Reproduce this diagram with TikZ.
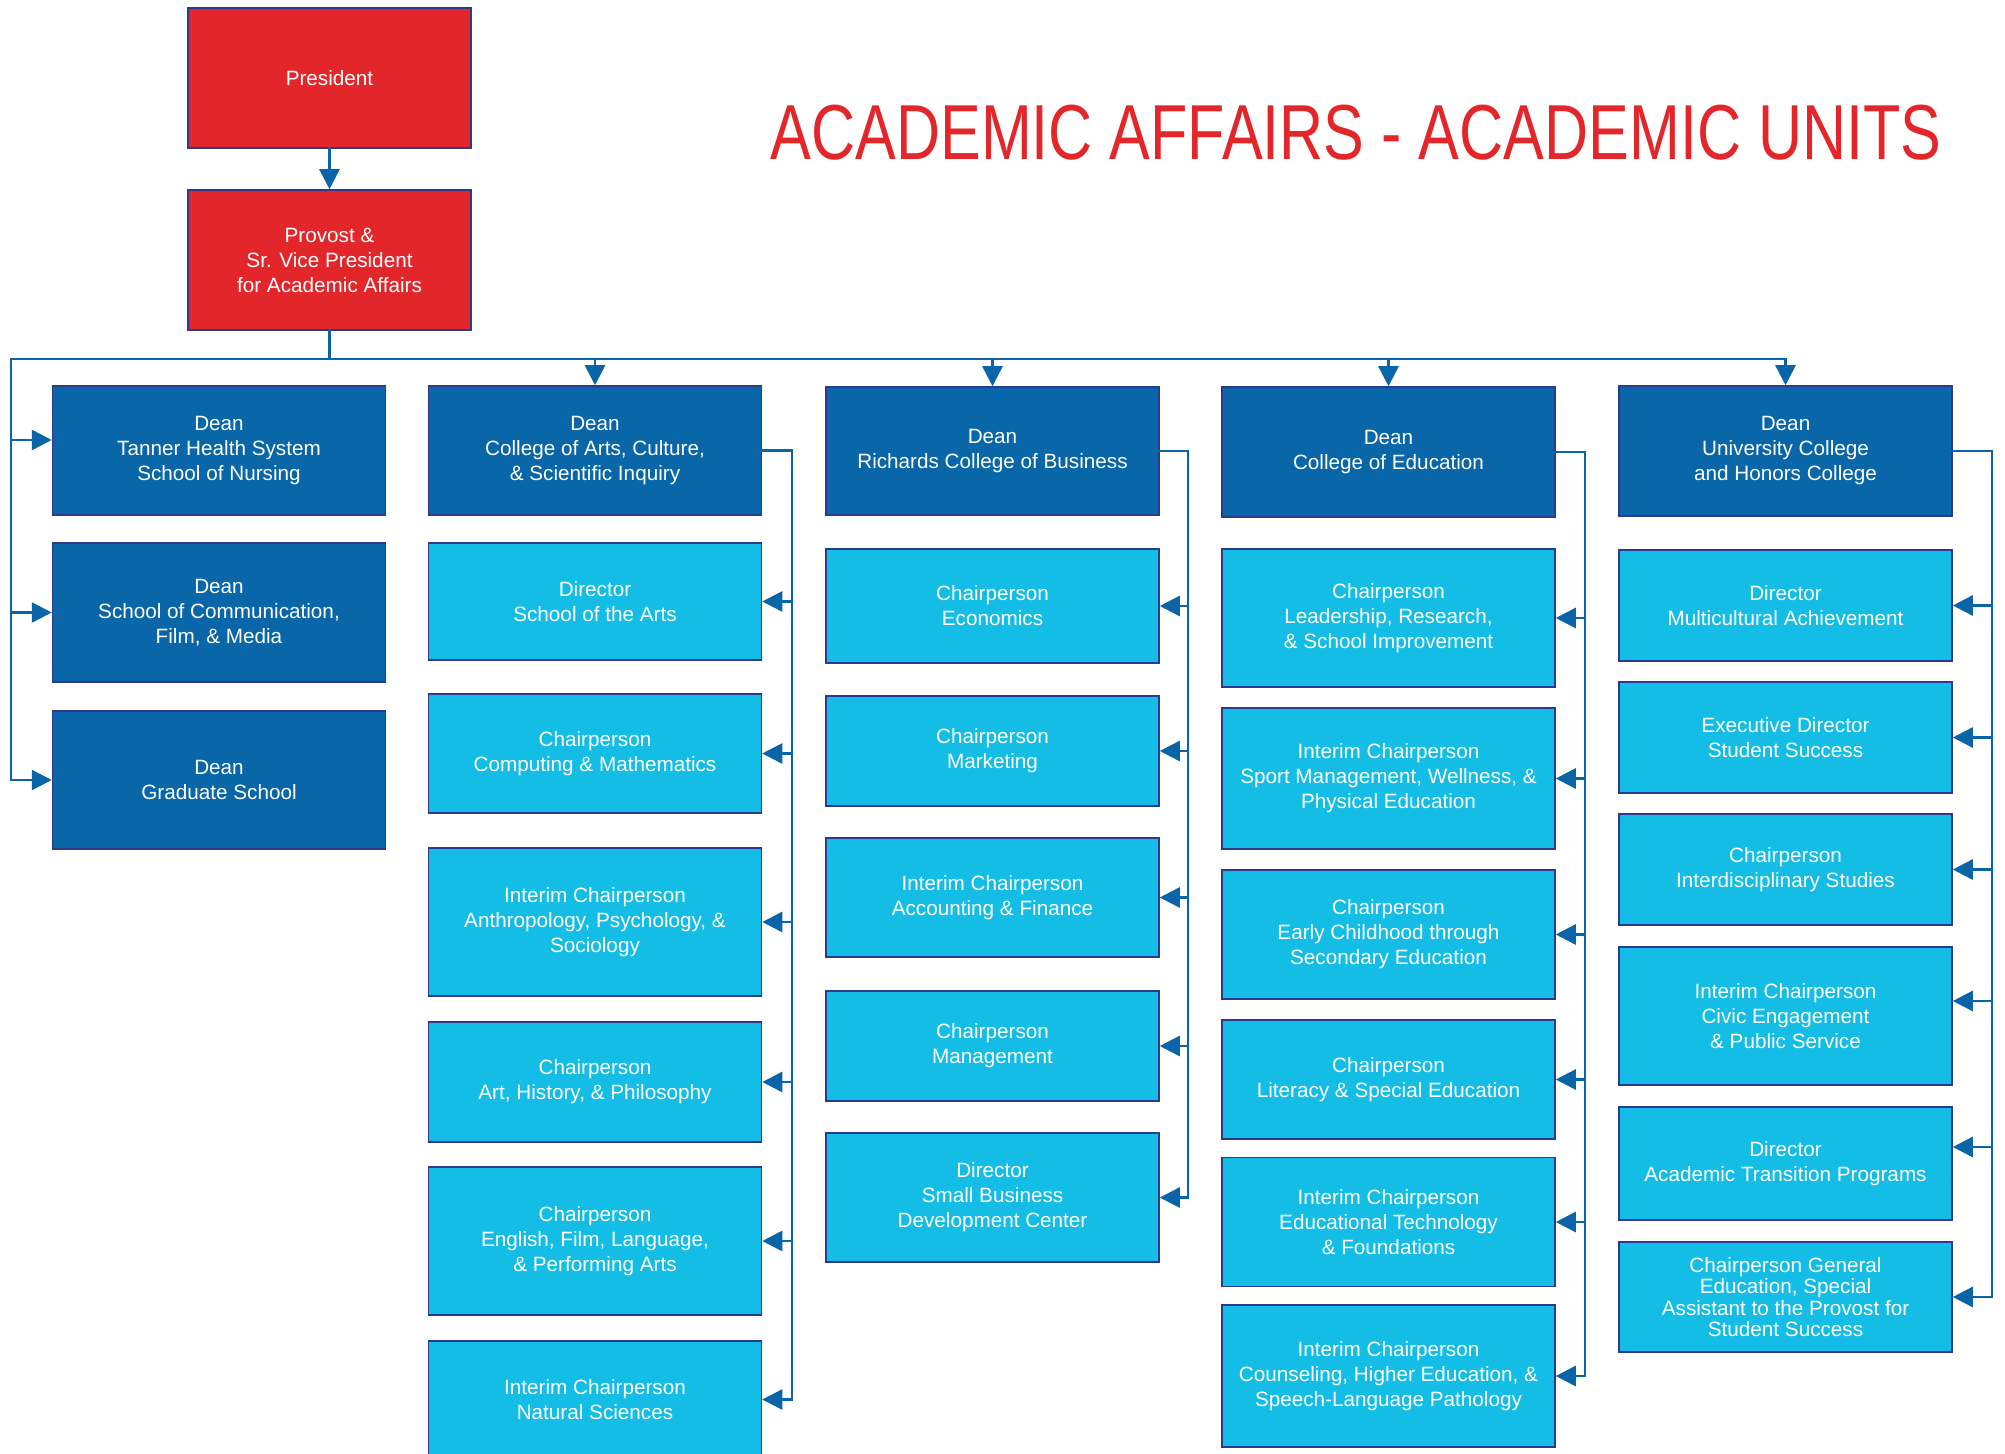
\documentclass[tikz,border=0pt]{standalone}
\usepackage{fontspec}
\setmainfont{Liberation Sans}
\newfontfamily\titlefont[FakeStretch=0.783]{Liberation Sans}
\usetikzlibrary{arrows.meta}
\definecolor{uwgred}{HTML}{E3262A}
\definecolor{deanblue}{HTML}{0866A9}
\definecolor{deptblue}{HTML}{13BDE6}
\definecolor{rimblue}{HTML}{2B3A8F}
\definecolor{wireblue}{HTML}{0A64A8}

\begin{document}
\begin{tikzpicture}[x=0.5pt,y=-0.5pt,>={Triangle[length=10pt,width=10pt]},
  box/.style={draw=rimblue,line width=0.75pt,text=white,align=center,inner sep=0pt,
    font=\fontsize{10.35pt}{12.5pt}\selectfont,minimum width=166.5pt},
  head/.style={box,fill=uwgred,minimum width=141.5pt,minimum height=70pt},
  dean/.style={box,fill=deanblue},
  dept/.style={box,fill=deptblue},
  wire/.style={draw=wireblue,line width=1.3pt,line cap=rect}]

\clip (0,0) rectangle (2005,1454);

\node[head] (pres) at (329.5,78) {President};
\node[head] (prov) at (329.5,260) {Provost \&\\Sr. Vice President\\for Academic Affairs};
\node[anchor=base,text=uwgred,font=\titlefont\fontsize{39pt}{39pt}\selectfont] (title) at (1356,160) {ACADEMIC AFFAIRS - ACADEMIC UNITS};

% deans on the left
\node[dean,minimum height=64.5pt] (nurs) at (219,450.5) {Dean\\Tanner Health System\\School of Nursing};
\node[dean,minimum height=69.5pt] (comm) at (219,612.5) {Dean\\School of Communication,\\Film, \& Media};
\node[dean,minimum height=69pt] (grad) at (219,780) {Dean\\Graduate School};

% arts, culture and scientific inquiry
\node[dean,minimum height=64.5pt] (cacsi) at (595,450.5) {Dean\\College of Arts, Culture,\\\& Scientific Inquiry};
\node[dept,minimum height=58.5pt] (arts) at (595,601.5) {Director\\School of the Arts};
\node[dept,minimum height=59.5pt] (cmath) at (595,753.5) {Chairperson\\Computing \& Mathematics};
\node[dept,minimum height=74pt] (aps) at (595,922) {Interim Chairperson\\Anthropology, Psychology, \&\\Sociology};
\node[dept,minimum height=60pt] (ahp) at (595,1082) {Chairperson\\Art, History, \& Philosophy};
\node[dept,minimum height=74pt] (eflpa) at (595,1241) {Chairperson\\English, Film, Language,\\\& Performing Arts};
\node[dept,minimum height=58.5pt] (natsci) at (595,1399.5) {Interim Chairperson\\Natural Sciences};

% business
\node[dean,minimum height=64pt] (rcob) at (992.5,451) {Dean\\Richards College of Business};
\node[dept,minimum height=57pt] (econ) at (992.5,606) {Chairperson\\Economics};
\node[dept,minimum height=55pt] (mktg) at (992.5,751) {Chairperson\\Marketing};
\node[dept,minimum height=59.5pt] (acct) at (992.5,897.5) {Interim Chairperson\\Accounting \& Finance};
\node[dept,minimum height=55pt] (mgmt) at (992.5,1046) {Chairperson\\Management};
\node[dept,minimum height=64.5pt] (sbdc) at (992.5,1197.5) {Director\\Small Business\\Development Center};

% education
\node[dean,minimum height=65pt] (coe) at (1388.5,452) {Dean\\College of Education};
\node[dept,minimum height=69pt] (lrsi) at (1388.5,618) {Chairperson\\Leadership, Research,\\\& School Improvement};
\node[dept,minimum height=70.5pt] (smwpe) at (1388.5,778.5) {Interim Chairperson\\Sport Management, Wellness, \&\\Physical Education};
\node[dept,minimum height=64.5pt] (ecse) at (1388.5,934.5) {Chairperson\\Early Childhood through\\Secondary Education};
\node[dept,minimum height=59.5pt] (lse) at (1388.5,1079.5) {Chairperson\\Literacy \& Special Education};
\node[dept,minimum height=64.5pt] (etf) at (1388.5,1222) {Interim Chairperson\\Educational Technology\\\& Foundations};
\node[dept,minimum height=71pt] (chesl) at (1388.5,1376) {Interim Chairperson\\Counseling, Higher Education, \&\\Speech-Language Pathology};

% university college
\node[dean,minimum height=65pt] (uchc) at (1785.5,451) {Dean\\University College\\and Honors College};
\node[dept,minimum height=55.5pt] (mca) at (1785.5,605.5) {Director\\Multicultural Achievement};
\node[dept,minimum height=55.5pt] (ss) at (1785.5,737.5) {Executive Director\\Student Success};
\node[dept,minimum height=55.5pt] (ids) at (1785.5,869.5) {Chairperson\\Interdisciplinary Studies};
\node[dept,minimum height=69pt] (ceps) at (1785.5,1016) {Interim Chairperson\\Civic Engagement\\\& Public Service};
\node[dept,minimum height=56.5pt] (atp) at (1785.5,1163.5) {Director\\Academic Transition Programs};
\node[dept,minimum height=55pt,font=\fontsize{10.35pt}{10.75pt}\selectfont] (gened) at (1785.5,1297) {Chairperson General\\Education, Special\\Assistant to the Provost for\\Student Success};

\coordinate (split) at (329.5,359);
\coordinate (lbus) at (11,359);
\coordinate (abus) at (792,0);
\coordinate (bbus) at (1188,0);
\coordinate (ebus) at (1585,0);
\coordinate (ubus) at (1992,0);

\draw[wire,->] (pres) -- (prov);
\draw[wire] (prov.south) -- (split);
\draw[wire] (lbus |- grad.west) -- (lbus) -- (uchc.north |- lbus);
\draw[wire,->] ([yshift=5.25pt]nurs.west -| lbus) -- ([yshift=5.25pt]nurs.west);
\draw[wire,->] (lbus |- comm.west) -- (comm.west);
\draw[wire,->] (lbus |- grad.west) -- (grad.west);
\foreach \d in {cacsi,rcob,coe,uchc}
  \draw[wire,->] (\d.north |- lbus) -- (\d.north);

\draw[wire] (cacsi.east) -| (abus |- natsci.east);
\foreach \c in {arts,cmath,aps,ahp,eflpa,natsci}
  \draw[wire,->] (abus |- \c.east) -- (\c.east);

\draw[wire] (rcob.east) -| (bbus |- sbdc.east);
\foreach \c in {econ,mktg,acct,mgmt,sbdc}
  \draw[wire,->] (bbus |- \c.east) -- (\c.east);

\draw[wire] (coe.east) -| (ebus |- chesl.east);
\foreach \c in {lrsi,smwpe,ecse,lse,etf,chesl}
  \draw[wire,->] (ebus |- \c.east) -- (\c.east);

\draw[wire] (uchc.east) -| (ubus |- gened.east);
\foreach \c/\s in {mca/0,ss/0,ids/0,ceps/7.5,atp/8.25,gened/0}
  \draw[wire,->] ([yshift=\s pt]ubus |- \c.east) -- ([yshift=\s pt]\c.east);
\end{tikzpicture}
\end{document}
